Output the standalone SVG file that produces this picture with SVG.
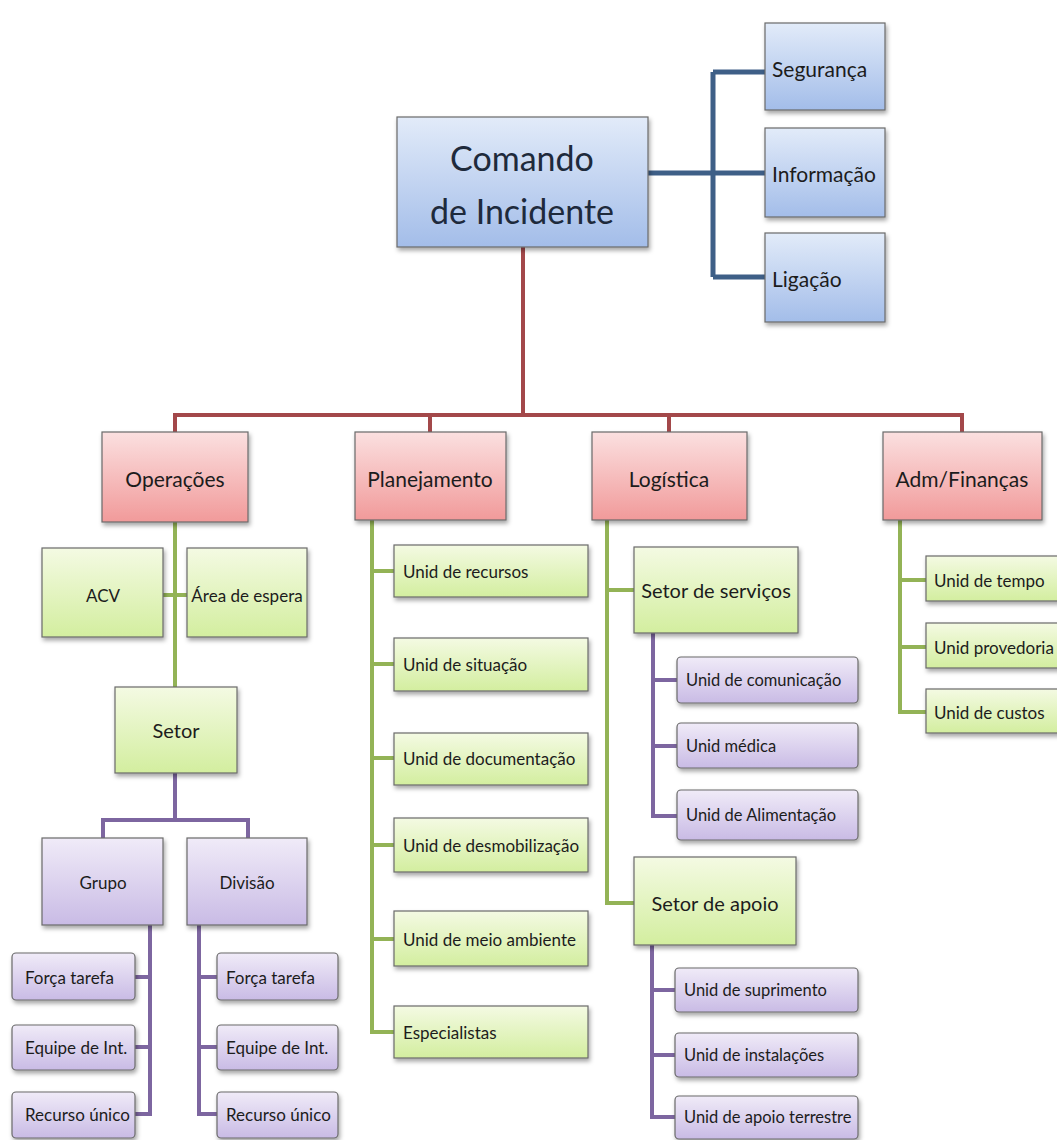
<svg xmlns="http://www.w3.org/2000/svg" width="1057" height="1140" viewBox="0 0 1057 1140">
<style>
text{font-family:Lato,"Open Sans","Liberation Sans",sans-serif;fill:#1c1c1c;dominant-baseline:central}
.c{text-anchor:middle}
.l{text-anchor:start}
.box{stroke:#6a6a6a;stroke-width:1.2;filter:url(#sh)}
.blue{fill:url(#gBlue)}
.pink{fill:url(#gPink)}
.green{fill:url(#gGreen)}
.purple{fill:url(#gPurple)}
.big{font-size:34px;fill:#1e2a3c}
.t21{font-size:21px}
.t20{font-size:20px}
.t17{font-size:17px}
.t16{font-size:16.5px}
.cb{fill:none;stroke:#3e5f87;stroke-width:5}
.cr{fill:none;stroke:#a3484a;stroke-width:4}
.cg{fill:none;stroke:#93b356;stroke-width:4}
.cp{fill:none;stroke:#7d66a0;stroke-width:4}
</style>
<defs>
<linearGradient id="gBlue" x1="0" y1="0" x2="0" y2="1"><stop offset="0" stop-color="#e2ebf9"/><stop offset="1" stop-color="#a3bde9"/></linearGradient>
<linearGradient id="gPink" x1="0" y1="0" x2="0" y2="1"><stop offset="0" stop-color="#fbe0e0"/><stop offset="1" stop-color="#f19a9a"/></linearGradient>
<linearGradient id="gGreen" x1="0" y1="0" x2="0" y2="1"><stop offset="0" stop-color="#f4fae3"/><stop offset="1" stop-color="#d3ee9f"/></linearGradient>
<linearGradient id="gPurple" x1="0" y1="0" x2="0" y2="1"><stop offset="0" stop-color="#f0ebf8"/><stop offset="1" stop-color="#c9bbe5"/></linearGradient>
<filter id="sh" x="-10%" y="-10%" width="125%" height="135%"><feDropShadow dx="1.5" dy="3" stdDeviation="2" flood-color="#000" flood-opacity="0.35"/></filter>
</defs>
<rect width="1057" height="1140" fill="#fff"/>

<g id="connectors">
<path class="cb" d="M648 173H765M713 72V277M713 72H765M713 277H765"/>
<path class="cr" d="M523 247V415M175 432V415H962V432M430 415V432M669 415V432"/>
<path class="cg" d="M175 522V687M163 595H187"/>
<path class="cp" d="M175 773V820M103 838V820H248V838"/>
<path class="cp" d="M150 925V1114H135M150 977H135M150 1047H135"/>
<path class="cp" d="M199 925V1114H217M199 977H217M199 1047H217"/>
<path class="cg" d="M372 520V1032H394M372 571H394M372 664H394M372 758H394M372 845H394M372 939H394"/>
<path class="cg" d="M607 520V903H634M607 590H634"/>
<path class="cp" d="M653 633V816H677M653 680H677M653 746H677"/>
<path class="cp" d="M652 945V1117H675M652 990H675M652 1055H675"/>
<path class="cg" d="M900 520V712H926M900 580H926M900 647H926"/>
</g>

<g id="comando"><rect class="box blue" x="397" y="117" width="251" height="130"/><text class="c big" x="522" y="157">Comando</text><text class="c big" x="522" y="210">de Incidente</text></g>
<g id="seguranca"><rect class="box blue" x="765" y="23" width="120" height="87"/><text class="l t21" x="772" y="68">Segurança</text></g>
<g id="informacao"><rect class="box blue" x="765" y="128" width="120" height="89"/><text class="l t21" x="772" y="173">Informação</text></g>
<g id="ligacao"><rect class="box blue" x="765" y="233" width="120" height="89"/><text class="l t21" x="772" y="278">Ligação</text></g>

<g id="operacoes"><rect class="box pink" x="102" y="432" width="146" height="90"/><text class="c t21" x="175" y="478">Operações</text></g>
<g id="planejamento"><rect class="box pink" x="355" y="432" width="151" height="88"/><text class="c t21" x="430" y="478">Planejamento</text></g>
<g id="logistica"><rect class="box pink" x="592" y="432" width="155" height="88"/><text class="c t21" x="669" y="478">Logística</text></g>
<g id="adm"><rect class="box pink" x="883" y="432" width="159" height="88"/><text class="c t21" x="962" y="478">Adm/Finanças</text></g>

<g id="acv"><rect class="box green" x="42" y="548" width="121" height="89"/><text class="c t17" x="103" y="595">ACV</text></g>
<g id="area-espera"><rect class="box green" x="187" y="548" width="120" height="89"/><text class="c t17" x="247" y="595">Área de espera</text></g>
<g id="setor"><rect class="box green" x="115" y="687" width="122" height="86"/><text class="c t20" x="176" y="730">Setor</text></g>
<g id="grupo"><rect class="box purple" x="42" y="838" width="121" height="87"/><text class="c t17" x="103" y="882">Grupo</text></g>
<g id="divisao"><rect class="box purple" x="187" y="838" width="120" height="87"/><text class="c t17" x="247" y="882">Divisão</text></g>

<g id="g-forca"><rect class="box purple" x="12" y="953" width="123" height="47" rx="4"/><text class="l t17" x="25" y="977">Força tarefa</text></g>
<g id="g-equipe"><rect class="box purple" x="12" y="1025" width="123" height="45" rx="4"/><text class="l t17" x="25" y="1047">Equipe de Int.</text></g>
<g id="g-recurso"><rect class="box purple" x="12" y="1092" width="123" height="46" rx="4"/><text class="l t17" x="25" y="1114">Recurso único</text></g>
<g id="d-forca"><rect class="box purple" x="217" y="953" width="121" height="47" rx="4"/><text class="l t17" x="226" y="977">Força tarefa</text></g>
<g id="d-equipe"><rect class="box purple" x="217" y="1025" width="121" height="45" rx="4"/><text class="l t17" x="226" y="1047">Equipe de Int.</text></g>
<g id="d-recurso"><rect class="box purple" x="217" y="1092" width="121" height="46" rx="4"/><text class="l t17" x="226" y="1114">Recurso único</text></g>

<g id="p-recursos"><rect class="box green" x="394" y="545" width="194" height="52"/><text class="l t17" x="403" y="571">Unid de recursos</text></g>
<g id="p-situacao"><rect class="box green" x="394" y="638" width="194" height="53"/><text class="l t17" x="403" y="664">Unid de situação</text></g>
<g id="p-documentacao"><rect class="box green" x="394" y="733" width="194" height="52"/><text class="l t17" x="403" y="758">Unid de documentação</text></g>
<g id="p-desmobilizacao"><rect class="box green" x="394" y="818" width="194" height="54"/><text class="l t17" x="403" y="845">Unid de desmobilização</text></g>
<g id="p-meio"><rect class="box green" x="394" y="911" width="194" height="55"/><text class="l t17" x="403" y="939">Unid de meio ambiente</text></g>
<g id="p-especialistas"><rect class="box green" x="394" y="1006" width="194" height="52"/><text class="l t17" x="403" y="1032">Especialistas</text></g>

<g id="setor-servicos"><rect class="box green" x="634" y="547" width="164" height="86"/><text class="c t20" x="716" y="590">Setor de serviços</text></g>
<g id="l-comunicacao"><rect class="box purple" x="677" y="657" width="181" height="46" rx="4"/><text class="l t16" x="686" y="680">Unid de comunicação</text></g>
<g id="l-medica"><rect class="box purple" x="677" y="723" width="181" height="45" rx="4"/><text class="l t16" x="686" y="746">Unid médica</text></g>
<g id="l-alimentacao"><rect class="box purple" x="677" y="790" width="181" height="50" rx="4"/><text class="l t16" x="686" y="815">Unid de Alimentação</text></g>
<g id="setor-apoio"><rect class="box green" x="634" y="857" width="162" height="88"/><text class="c t20" x="715" y="903">Setor de apoio</text></g>
<g id="l-suprimento"><rect class="box purple" x="675" y="968" width="183" height="44" rx="4"/><text class="l t16" x="684" y="990">Unid de suprimento</text></g>
<g id="l-instalacoes"><rect class="box purple" x="675" y="1033" width="183" height="44" rx="4"/><text class="l t16" x="684" y="1055">Unid de instalações</text></g>
<g id="l-terrestre"><rect class="box purple" x="675" y="1096" width="183" height="43" rx="4"/><text class="l t16" x="684" y="1117">Unid de apoio terrestre</text></g>

<g id="a-tempo"><rect class="box green" x="926" y="556" width="136" height="45"/><text class="l t17" x="934" y="580">Unid de tempo</text></g>
<g id="a-provedoria"><rect class="box green" x="926" y="623" width="136" height="45"/><text class="l t17" x="934" y="647">Unid provedoria</text></g>
<g id="a-custos"><rect class="box green" x="926" y="689" width="136" height="44"/><text class="l t17" x="934" y="712">Unid de custos</text></g>
</svg>
